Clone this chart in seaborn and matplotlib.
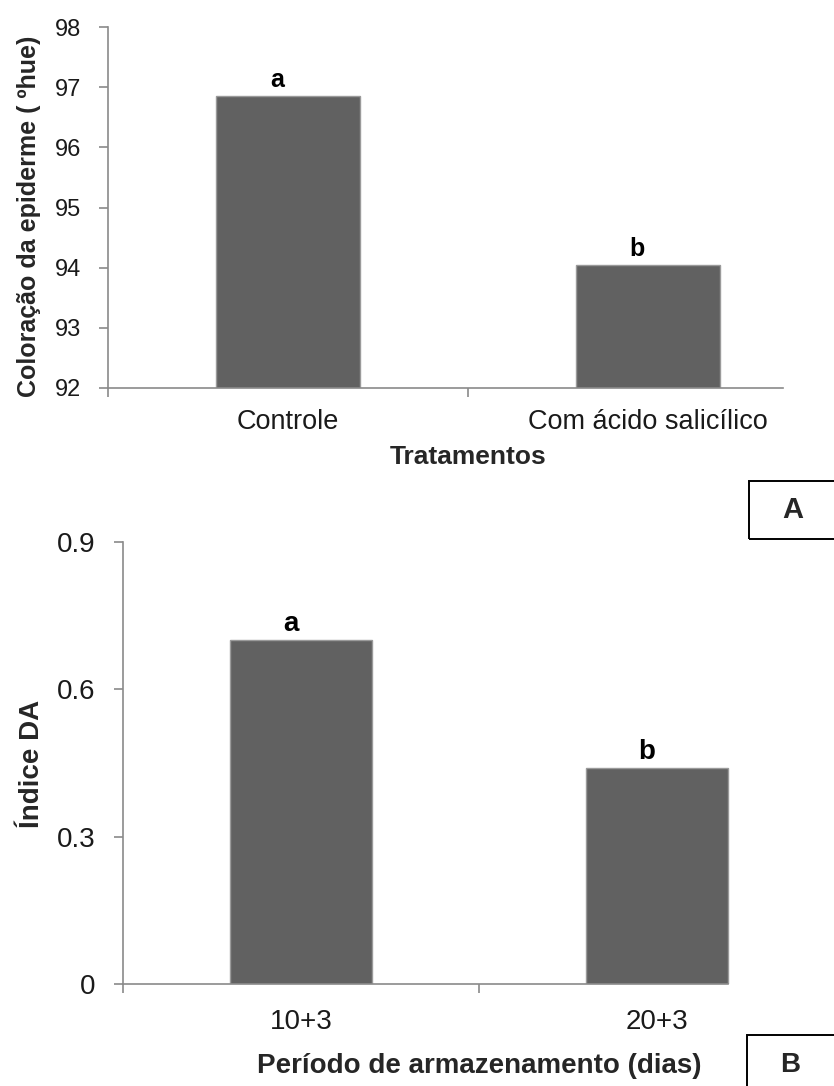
import matplotlib
matplotlib.use("Agg")
import matplotlib.pyplot as plt
import seaborn as sns
from matplotlib.patches import Rectangle

# Data
cats_a = ["Controle", "Com ácido salicílico"]
vals_a = [96.85, 94.05]
letters_a = ["a", "b"]
yticks_a = [92, 93, 94, 95, 96, 97, 98]

cats_b = ["10+3", "20+3"]
vals_b = [0.70, 0.44]
letters_b = ["a", "b"]
yticks_b = [0, 0.3, 0.6, 0.9]
yticklabels_b = ["0", "0.3", "0.6", "0.9"]

sns.set_style("white")
plt.rcParams['font.family'] = ['Liberation Sans', 'DejaVu Sans']

W, H = 834, 1086
fig = plt.figure(figsize=(W / 100, H / 100), dpi=100)

BAR = "#616161"
EDGE = "#9a9a9a"
AX = "#8a8a8a"
TXT = "#1a1a1a"
PX = 0.72  # points per pixel at dpi 100


def frac(x0, x1, ytop, ybot):
    return [x0 / W, 1 - ybot / H, (x1 - x0) / W, (ybot - ytop) / H]


def style(ax, spine_end, ypad, xpad):
    for s in ["top", "right"]:
        ax.spines[s].set_visible(False)
    for s in ["left", "bottom"]:
        ax.spines[s].set_color(AX)
        ax.spines[s].set_linewidth(1.2)
    ax.spines["bottom"].set_bounds(-0.5, spine_end)
    ax.set_xticks([-0.5, 0.5], minor=True)
    ax.tick_params(which="both", left=True, bottom=True)
    ax.tick_params(axis="x", which="major", length=0, pad=xpad)
    ax.tick_params(axis="x", which="minor", length=9 * PX, width=1.2, color=AX, direction="out")
    ax.tick_params(axis="y", which="major", length=9 * PX, width=1.2, color=AX,
                   direction="out", pad=ypad)


# Panel A
ax1 = fig.add_axes(frac(108, 828, 27, 388))
sns.barplot(x=cats_a, y=vals_a, color=BAR, saturation=1, width=0.4,
            edgecolor=EDGE, linewidth=1, ax=ax1)
ax1.set_xlim(-0.5, 1.5)
ax1.set_ylim(92, 98)
ax1.set_yticks(yticks_a)
ax1.set_yticklabels([str(v) for v in yticks_a], fontsize=17, color=TXT)
for lab in ax1.get_xticklabels():
    lab.set_fontsize(19.5)
    lab.set_color(TXT)
style(ax1, 1.375, 18 * PX, 15)
for i, (v, l) in enumerate(zip(vals_a, letters_a)):
    ax1.annotate(l, (i, v), xytext=(-11 * PX, 16 * PX), textcoords="offset points",
                 ha="center", va="center", fontsize=18, fontweight="bold", color="black")
ax1.set_ylabel("Coloração da epiderme ( ºhue)", fontsize=18, fontweight="bold",
               va="center")
ax1.yaxis.set_label_coords(-0.11, 0.475)
ax1.set_xlabel("Tratamentos", fontsize=19, fontweight="bold", va="center")
ax1.xaxis.set_label_coords(0.5, -0.19)

# Panel B
ax2 = fig.add_axes(frac(123, 835, 542, 984))
sns.barplot(x=cats_b, y=vals_b, color=BAR, saturation=1, width=0.4,
            edgecolor=EDGE, linewidth=1, ax=ax2)
ax2.set_xlim(-0.5, 1.5)
ax2.set_ylim(0, 0.9)
ax2.set_yticks(yticks_b)
ax2.set_yticklabels(yticklabels_b, fontsize=20, color=TXT)
for lab in ax2.get_xticklabels():
    lab.set_fontsize(20)
    lab.set_color(TXT)
style(ax2, 1.2, 19 * PX, 18)
for i, (v, l) in enumerate(zip(vals_b, letters_b)):
    ax2.annotate(l, (i, v), xytext=(-10 * PX, 16 * PX), textcoords="offset points",
                 ha="center", va="center", fontsize=20, fontweight="bold", color="black")
ax2.set_ylabel("Índice DA", fontsize=20, fontweight="bold", va="center")
ax2.yaxis.set_label_coords(-0.128, 0.498)
ax2.set_xlabel("Período de armazenamento (dias)", fontsize=20, fontweight="bold", va="center")
ax2.xaxis.set_label_coords(0.5, -0.186)

# Panel letter boxes
fig.patches.append(Rectangle((749 / W, 1 - 539 / H), (W - 749 + 5) / W, 58 / H,
                             transform=fig.transFigure, fill=False, edgecolor="black",
                             linewidth=1.4))
fig.text(793 / W, 1 - 510 / H, "A", fontsize=21, fontweight="bold", ha="center", va="center")
fig.patches.append(Rectangle((747 / W, 1 - (H + 5) / H), (W - 747 + 5) / W, (H + 5 - 1035) / H,
                             transform=fig.transFigure, fill=False, edgecolor="black",
                             linewidth=1.4))
fig.text(790 / W, 1 - 1065 / H, "B", fontsize=20, fontweight="bold", ha="center", va="center")

fig.savefig("out.png", dpi=100)
